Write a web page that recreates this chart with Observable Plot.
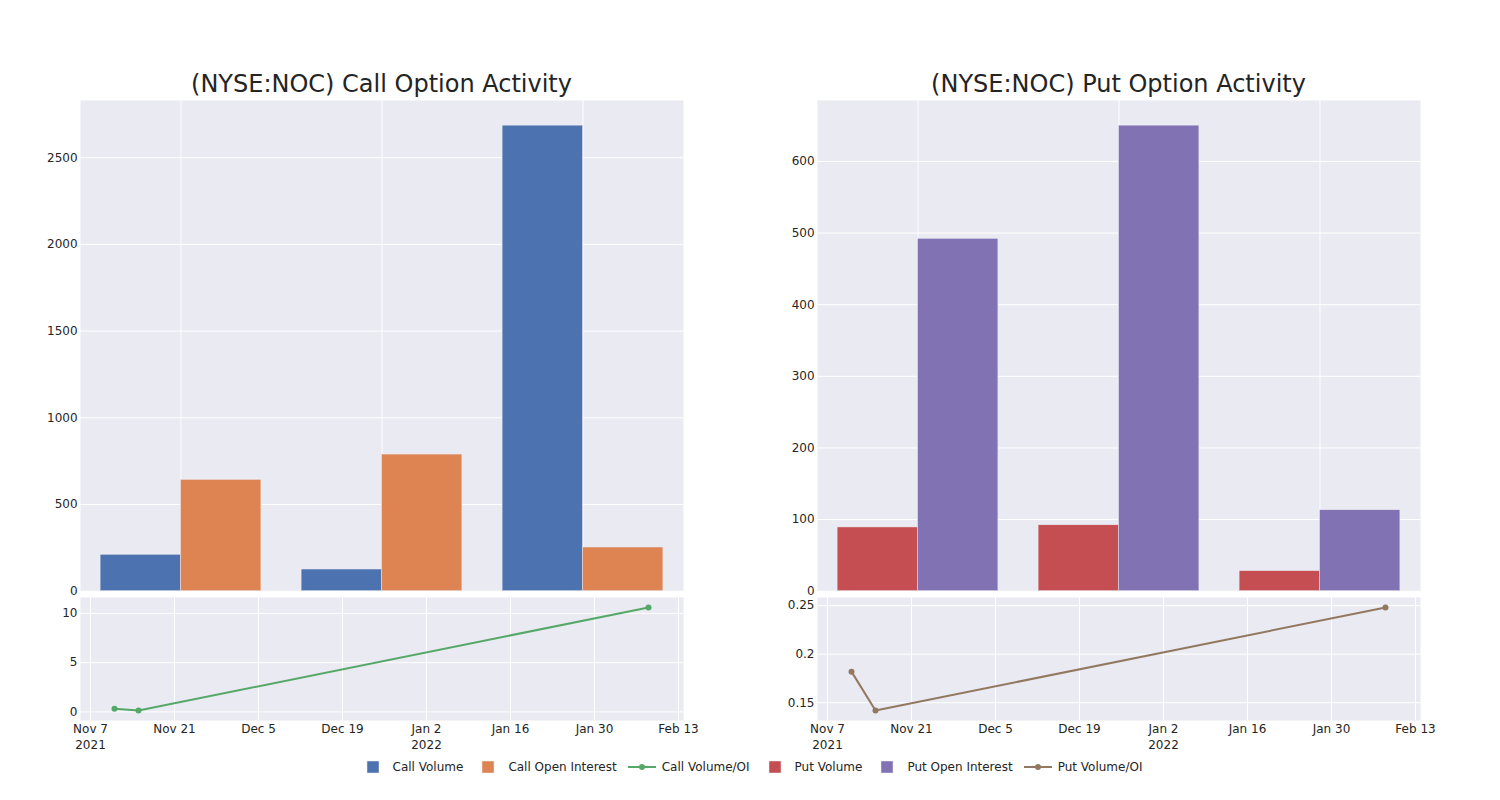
<!DOCTYPE html>
<html>
<head>
<meta charset="utf-8">
<script src="https://cdn.jsdelivr.net/npm/d3@7"></script>
<script src="https://cdn.jsdelivr.net/npm/@observablehq/plot@0.6"></script>
<style>
  html, body { margin: 0; padding: 0; background: #fff; }
  body { width: 1500px; height: 800px; position: relative; overflow: hidden; font-family: "DejaVu Sans", sans-serif; color: #242424; }
  .abs { position: absolute; }
  .title { position: absolute; font-size: 24px; line-height: 24px; text-align: center; white-space: nowrap; color: #242424; }
  #legend { position: absolute; left: 0; width: 1500px; top: 759px; height: 16px; display: flex; justify-content: center; align-items: center; font-size: 12px; color: #242424; }
  .item { display: flex; align-items: center; margin-right: 5px; white-space: nowrap; }
  .item svg { display: block; }
</style>
</head>
<body>
<div id="root"></div>
<script>
// ---------- data ----------
const dates = ["2021-11-11", "2021-11-15", "2022-02-08"];
const callVolume = [210, 125, 2685];
const callOpenInterest = [642, 788, 252];
const callVolumeOI = [0.31, 0.14, 10.6];
const putVolume = [89, 92, 28];
const putOpenInterest = [492, 650, 113];
const putVolumeOI = [0.182, 0.142, 0.248];
const callBarTicks = [0, 500, 1000, 1500, 2000, 2500];
const putBarTicks = [0, 100, 200, 300, 400, 500, 600];
const callRatioTicks = [0, 5, 10];
const putRatioTicks = [0.15, 0.2, 0.25];
const dateTicks = ["2021-11-07", "2021-11-21", "2021-12-05", "2021-12-19", "2022-01-02", "2022-01-16", "2022-01-30", "2022-02-13"];
const dateDomain = ["2021-11-05T08:00Z", "2022-02-13T20:00Z"];
const titles = ["(NYSE:NOC) Call Option Activity", "(NYSE:NOC) Put Option Activity"];
const seriesNames = ["Call Volume", "Call Open Interest", "Call Volume/OI", "Put Volume", "Put Open Interest", "Put Volume/OI"];
const colors = ["#4C72B0", "#DD8452", "#55A868", "#C44E52", "#8172B3", "#937860"];

// ---------- layout ----------
const BG = "#EAEAF2";
const TXT = "#242424";
const innerW = 603;
const mL = 80, mR = 67;
const panelLefts = [0, 737];
const barTop = 100, barBottom = 590.7;
const lineTop = 597, lineBottom = 720;

const baseStyle = {fontFamily: "DejaVu Sans, sans-serif", fontSize: "12px", color: TXT, background: "transparent", overflow: "visible"};

function place(el, left, top) {
  const d = document.createElement("div");
  d.className = "abs";
  d.style.left = left + "px";
  d.style.top = top + "px";
  d.appendChild(el);
  document.getElementById("root").appendChild(d);
}

function barPanel(k, vol, oi, cVol, cOi, ticks) {
  const left = panelLefts[k];
  const ymax = d3.max([...vol, ...oi]) * 1.054;
  const volData = dates.map((d, i) => ({date: d, value: vol[i]}));
  const oiData = dates.map((d, i) => ({date: d, value: oi[i]}));
  const bw = innerW / dates.length;
  const mT = 10, mB = 10;
  const h = (barBottom - barTop) + mT + mB;
  const chart = Plot.plot({
    width: innerW + mL + mR,
    height: h,
    marginLeft: mL, marginRight: mR, marginTop: mT, marginBottom: mB,
    style: baseStyle,
    x: {type: "band", domain: dates, paddingInner: 0, paddingOuter: 0, axis: null},
    y: {domain: [0, ymax], axis: null},
    marks: [
      Plot.frame({fill: BG, stroke: null}),
      Plot.ruleY(ticks, {y: d => d, stroke: "white", strokeWidth: 1}),
      Plot.ruleX(dates, {x: d => d, stroke: "white", strokeWidth: 1}),
      Plot.barY(volData, {x: "date", y: "value", fill: cVol, stroke: BG, strokeWidth: 0.5,
        insetLeft: bw * 0.1, insetRight: bw * 0.5}),
      Plot.barY(oiData, {x: "date", y: "value", fill: cOi, stroke: BG, strokeWidth: 0.5,
        insetLeft: bw * 0.5, insetRight: bw * 0.1}),
      Plot.axisY(ticks, {tickSize: 0, tickPadding: 3, fontSize: 12, fill: TXT, label: null, tickFormat: d => String(d)})
    ]
  });
  place(chart, left, barTop - mT);

  const t = document.createElement("div");
  t.className = "title";
  t.style.left = (left + mL) + "px";
  t.style.width = innerW + "px";
  t.style.top = "72px";
  t.textContent = titles[k];
  document.getElementById("root").appendChild(t);
}

const fmtMD = d3.utcFormat("%b %-d");
const fmtY = d3.utcFormat("%Y");
function dateLabel(d, i) {
  const prev = i > 0 ? new Date(dateTicks[i - 1]) : null;
  if (!prev || prev.getUTCFullYear() !== d.getUTCFullYear()) return fmtMD(d) + "\n" + fmtY(d);
  return fmtMD(d);
}

function linePanel(k, values, color, ticks) {
  const left = panelLefts[k];
  const data = dates.map((d, i) => ({date: new Date(d), value: values[i]}));
  const lo = d3.min(values), hi = d3.max(values);
  const plotH = lineBottom - lineTop;
  const pad = (hi - lo) * 10 / (plotH - 20);
  const mT = 10, mB = 40;
  const tickDates = dateTicks.map(d => new Date(d));
  const chart = Plot.plot({
    width: innerW + mL + mR,
    height: plotH + mT + mB,
    marginLeft: mL, marginRight: mR, marginTop: mT, marginBottom: mB,
    style: baseStyle,
    x: {type: "utc", domain: dateDomain.map(d => new Date(d)), axis: null},
    y: {domain: [lo - pad, hi + pad], axis: null},
    marks: [
      Plot.frame({fill: BG, stroke: null}),
      Plot.ruleY(ticks, {y: d => d, stroke: "white", strokeWidth: 1}),
      Plot.ruleX(tickDates, {x: d => d, stroke: "white", strokeWidth: 1}),
      Plot.line(data, {x: "date", y: "value", stroke: color, strokeWidth: 2}),
      Plot.dot(data, {x: "date", y: "value", r: 3, fill: color, stroke: null}),
      Plot.axisY(ticks, {tickSize: 0, tickPadding: 3, fontSize: 12, fill: TXT, label: null, tickFormat: d => String(d)}),
      Plot.axisX(tickDates, {tickSize: 0, tickPadding: 1, fontSize: 12, fill: TXT, lineHeight: 1.35, label: null,
        tickFormat: (d, i) => dateLabel(d, i)})
    ]
  });
  place(chart, left, lineTop - mT);
}

barPanel(0, callVolume, callOpenInterest, colors[0], colors[1], callBarTicks);
barPanel(1, putVolume, putOpenInterest, colors[3], colors[4], putBarTicks);
linePanel(0, callVolumeOI, colors[2], callRatioTicks);
linePanel(1, putVolumeOI, colors[5], putRatioTicks);

// ---------- legend ----------
const legend = document.createElement("div");
legend.id = "legend";
const kinds = ["bar", "bar", "line", "bar", "bar", "line"];
seriesNames.forEach((name, i) => {
  const item = document.createElement("div");
  item.className = "item";
  const ns = "http://www.w3.org/2000/svg";
  const svg = document.createElementNS(ns, "svg");
  svg.setAttribute("width", 40);
  svg.setAttribute("height", 16);
  if (kinds[i] === "bar") {
    const r = document.createElementNS(ns, "rect");
    r.setAttribute("x", 14); r.setAttribute("y", 2);
    r.setAttribute("width", 12); r.setAttribute("height", 12);
    r.setAttribute("fill", colors[i]);
    r.setAttribute("stroke", BG); r.setAttribute("stroke-width", 0.5);
    svg.appendChild(r);
  } else {
    const l = document.createElementNS(ns, "line");
    l.setAttribute("x1", 6); l.setAttribute("x2", 34);
    l.setAttribute("y1", 8); l.setAttribute("y2", 8);
    l.setAttribute("stroke", colors[i]); l.setAttribute("stroke-width", 2);
    svg.appendChild(l);
    const c = document.createElementNS(ns, "circle");
    c.setAttribute("cx", 20); c.setAttribute("cy", 8); c.setAttribute("r", 3);
    c.setAttribute("fill", colors[i]);
    svg.appendChild(c);
  }
  item.appendChild(svg);
  const s = document.createElement("span");
  s.textContent = name;
  item.appendChild(s);
  legend.appendChild(item);
});
document.getElementById("root").appendChild(legend);
</script>
</body>
</html>
